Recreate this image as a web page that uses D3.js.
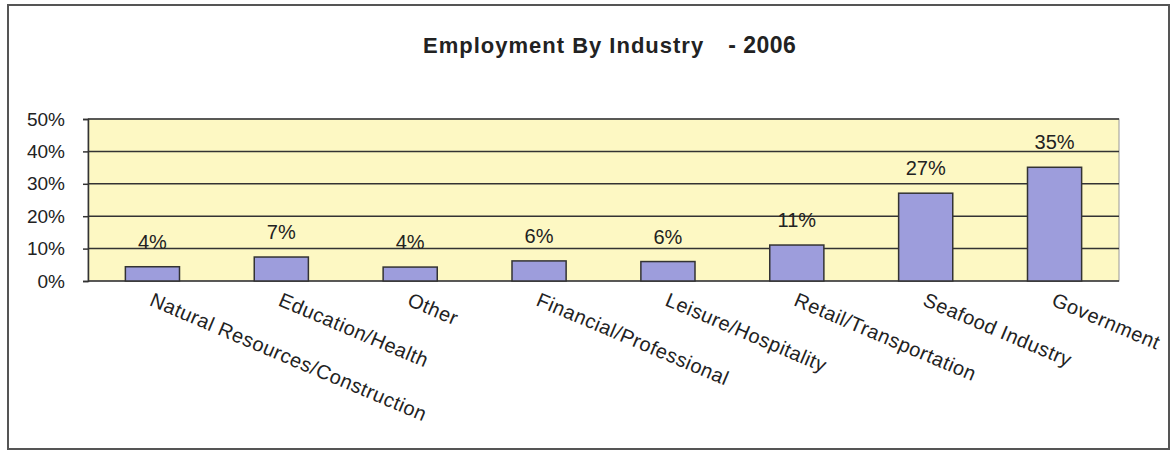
<!DOCTYPE html>
<html>
<head>
<meta charset="utf-8">
<script src="https://cdn.jsdelivr.net/npm/d3@7"></script>
<style>
  body { margin: 0; background: #fff; }
  svg text { font-family: "Liberation Sans", Arial, sans-serif; fill: #222; }
</style>
</head>
<body>
<svg width="1171" height="452"></svg>
<script>
// data
var industries = ["Natural Resources/Construction", "Education/Health", "Other",
                  "Financial/Professional", "Leisure/Hospitality", "Retail/Transportation",
                  "Seafood Industry", "Government"];
var shares = [4.4, 7.4, 4.3, 6.2, 6.0, 11.1, 27.1, 35.1];
var yTicks = [0, 10, 20, 30, 40, 50];

var margin = {top: 119, right: 52, bottom: 171, left: 88};
var width = 1171 - margin.left - margin.right;
var height = 452 - margin.top - margin.bottom;

var svg = d3.select("svg");

// outer frame
svg.append("rect")
   .attr("x", 8).attr("y", 5)
   .attr("width", 1161).attr("height", 444)
   .attr("fill", "none")
   .attr("stroke", "#555")
   .attr("stroke-width", 2);

svg.append("text")
   .attr("x", 423).attr("y", 53)
   .style("font-weight", "bold")
   .style("font-size", "22px")
   .style("letter-spacing", "1px")
   .text("Employment By Industry")
   .append("tspan")
   .style("font-size", "23px")
   .style("letter-spacing", "0.5px")
   .attr("dx", 24)
   .text("- 2006");

var g = svg.append("g")
           .attr("transform", "translate(" + margin.left + "," + margin.top + ")");

var x = d3.scaleBand().domain(industries).range([0, width]).paddingInner(0.58).paddingOuter(0.29);
var y = d3.scaleLinear().domain([0, 50]).range([height, 0]);

// plot background
g.append("rect")
 .attr("width", width).attr("height", height)
 .attr("fill", "#fdf8c3")
 .attr("stroke", "#999");

// gridlines
g.append("g")
 .selectAll("line")
 .data(yTicks)
 .enter()
 .append("line")
 .attr("x1", 0).attr("x2", width)
 .attr("y1", d => y(d)).attr("y2", d => y(d))
 .attr("stroke", "#333")
 .attr("stroke-width", 1.5);

// y axis
var yAxis = g.append("g")
             .call(d3.axisLeft(y).tickValues(yTicks).tickSize(5).tickPadding(18)
                     .tickFormat(d => d + "%"));
yAxis.select(".domain").attr("stroke", "#333").attr("stroke-width", 1.5);
yAxis.selectAll(".tick line").attr("stroke", "#333").attr("stroke-width", 1.5);
yAxis.selectAll("text").style("font-size", "19px").attr("fill", "#222");

// bars
g.append("g")
 .selectAll("rect")
 .data(shares)
 .enter()
 .append("rect")
 .attr("x", (d, i) => x(industries[i]))
 .attr("y", d => y(d))
 .attr("width", x.bandwidth())
 .attr("height", d => height - y(d))
 .attr("fill", "#9d9ddc")
 .attr("stroke", "#333")
 .attr("stroke-width", 1.5);

// value labels
g.append("g")
 .selectAll("text")
 .data(shares)
 .enter()
 .append("text")
 .attr("x", (d, i) => x(industries[i]) + x.bandwidth() / 2)
 .attr("y", d => y(d) - 18)
 .attr("text-anchor", "middle")
 .style("font-size", "20px")
 .text(d => Math.round(d) + "%");

// category labels, tilted
g.append("g")
 .selectAll("text")
 .data(industries)
 .enter()
 .append("text")
 .attr("transform", d => "translate(" + (x(d) + x.bandwidth() / 2 - 4) + "," + (height + 24) + ") rotate(23)")
 .style("font-size", "20px")
 .style("letter-spacing", "0.5px")
 .text(d => d);
</script>
</body>
</html>
